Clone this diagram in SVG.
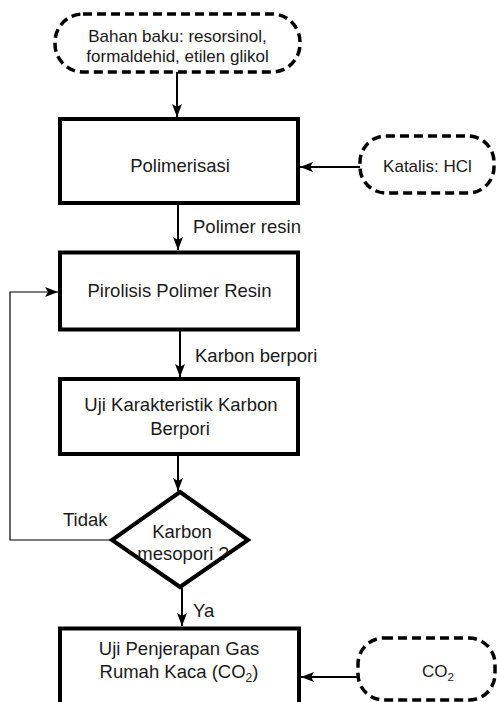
<svg xmlns="http://www.w3.org/2000/svg" width="497" height="702" viewBox="0 0 497 702">
<style>
.box{fill:#fff;stroke:#000;stroke-width:4}
.term{fill:#fff;stroke:#000;stroke-width:3.5;stroke-dasharray:9 5}
.t{font-family:"Liberation Sans",Arial,sans-serif;font-size:18.5px;fill:#1a1a1a}
.ts{font-family:"Liberation Sans",Arial,sans-serif;font-size:17px;fill:#1a1a1a}
.c{text-anchor:middle}
.ln{fill:none;stroke:#000;stroke-width:2}
.fb{fill:none;stroke:#000;stroke-width:1.2}
</style>
<defs>
<marker id="ah" markerUnits="userSpaceOnUse" markerWidth="14" markerHeight="12" refX="13" refY="5" orient="auto">
<path d="M0,0 L13,5 L0,10 L3,5 z" fill="#000"/>
</marker>
</defs>
<rect width="497" height="702" fill="#fff"/>
<g id="connectors">
<line class="ln" x1="177" y1="72" x2="177" y2="117" marker-end="url(#ah)"/>
<line class="ln" x1="360" y1="167" x2="300" y2="167" marker-end="url(#ah)"/>
<line class="ln" x1="178" y1="205" x2="178" y2="250" marker-end="url(#ah)"/>
<line class="ln" x1="180" y1="331" x2="180" y2="377" marker-end="url(#ah)"/>
<line class="ln" x1="178" y1="456" x2="178" y2="491" marker-end="url(#ah)"/>
<line class="ln" x1="182" y1="588" x2="182" y2="626" marker-end="url(#ah)"/>
<line class="ln" x1="358" y1="677" x2="301" y2="677" marker-end="url(#ah)"/>
<polyline class="fb" points="112,540 10,540 10,292 58,292" marker-end="url(#ah)"/>
<text class="t" x="193" y="233">Polimer resin</text>
<text class="t" x="195" y="362">Karbon berpori</text>
<text class="t" x="63" y="526">Tidak</text>
<text class="t" x="193" y="617">Ya</text>
</g>
<g id="bahan">
<rect class="term" x="55" y="14" width="245" height="58" rx="28"/>
<text class="ts c" x="177.5" y="42">Bahan baku: resorsinol,</text>
<text class="ts c" x="177.5" y="62">formaldehid, etilen glikol</text>
</g>
<g id="polimerisasi">
<rect class="box" x="60" y="119" width="238" height="84"/>
<text class="t c" x="180" y="172">Polimerisasi</text>
</g>
<g id="katalis">
<rect class="term" x="360" y="136" width="134" height="57" rx="26"/>
<text class="ts c" x="427.5" y="172">Katalis: HCl</text>
</g>
<g id="pirolisis">
<rect class="box" x="60" y="252.5" width="238" height="77"/>
<text class="t c" x="179.5" y="297">Pirolisis Polimer Resin</text>
</g>
<g id="uji-karakteristik">
<rect class="box" x="60" y="379" width="238" height="75"/>
<text class="t c" x="181" y="411">Uji Karakteristik Karbon</text>
<text class="t c" x="180" y="435">Berpori</text>
</g>
<g id="keputusan">
<polygon class="box" points="180,492 248,540 180,587 112,540"/>
<text class="t c" x="182" y="538">Karbon</text>
<text class="t c" x="183" y="560">mesopori ?</text>
</g>
<g id="uji-penjerapan">
<rect class="box" x="60" y="628.5" width="239" height="100"/>
<text class="t c" x="179" y="655">Uji Penjerapan Gas</text>
<text class="t c" x="179" y="678">Rumah Kaca (CO<tspan font-size="12" dy="4">2</tspan><tspan dy="-4">)</tspan></text>
</g>
<g id="co2">
<rect class="term" x="358" y="638" width="137" height="62" rx="26"/>
<text class="ts c" x="438" y="677">CO<tspan font-size="11.5" dy="4">2</tspan></text>
</g>
</svg>
